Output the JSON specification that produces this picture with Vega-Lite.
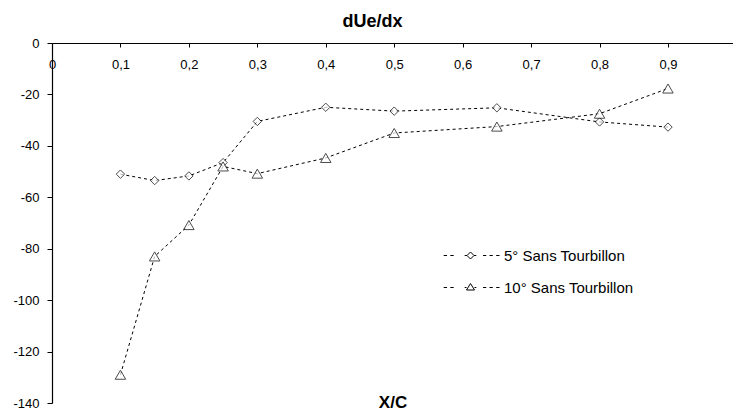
{
  "$schema": "https://vega.github.io/schema/vega-lite/v6.json",
  "width": 681,
  "height": 360,
  "autosize": "none",
  "padding": {"left": 52, "top": 43, "right": 0, "bottom": 7},
  "background": "white",
  "title": {
    "text": "dUe/dx",
    "font": "Liberation Sans",
    "fontSize": 18,
    "fontWeight": "bold",
    "color": "black",
    "anchor": "middle",
    "baseline": "alphabetic",
    "offset": 16,
    "dx": -20,
    "dy": 24
  },
  "config": {
    "view": {"stroke": null},
    "font": "Liberation Sans"
  },
  "data": {
    "values": [
      {"x": 0.1, "y": -51.0, "series": "5° Sans Tourbillon"},
      {"x": 0.15, "y": -53.5, "series": "5° Sans Tourbillon"},
      {"x": 0.2, "y": -51.7, "series": "5° Sans Tourbillon"},
      {"x": 0.25, "y": -46.5, "series": "5° Sans Tourbillon"},
      {"x": 0.3, "y": -30.5, "series": "5° Sans Tourbillon"},
      {"x": 0.4, "y": -25.0, "series": "5° Sans Tourbillon"},
      {"x": 0.5, "y": -26.5, "series": "5° Sans Tourbillon"},
      {"x": 0.65, "y": -25.2, "series": "5° Sans Tourbillon"},
      {"x": 0.8, "y": -30.7, "series": "5° Sans Tourbillon"},
      {"x": 0.9, "y": -32.7, "series": "5° Sans Tourbillon"},
      {"x": 0.1, "y": -129.0, "series": "10° Sans Tourbillon"},
      {"x": 0.15, "y": -83.0, "series": "10° Sans Tourbillon"},
      {"x": 0.2, "y": -70.8, "series": "10° Sans Tourbillon"},
      {"x": 0.25, "y": -48.0, "series": "10° Sans Tourbillon"},
      {"x": 0.3, "y": -50.8, "series": "10° Sans Tourbillon"},
      {"x": 0.4, "y": -44.7, "series": "10° Sans Tourbillon"},
      {"x": 0.5, "y": -35.0, "series": "10° Sans Tourbillon"},
      {"x": 0.65, "y": -32.5, "series": "10° Sans Tourbillon"},
      {"x": 0.8, "y": -27.5, "series": "10° Sans Tourbillon"},
      {"x": 0.9, "y": -17.7, "series": "10° Sans Tourbillon"}
    ]
  },
  "encoding": {
    "x": {
      "field": "x",
      "type": "quantitative",
      "scale": {"domain": [0, 0.995], "nice": false, "zero": false},
      "axis": {
        "orient": "bottom",
        "offset": -360,
        "title": "X/C",
        "titleFont": "Liberation Sans",
        "titleFontSize": 17,
        "titleFontWeight": "bold",
        "titleColor": "black",
        "titleBaseline": "alphabetic",
        "titleY": 364,
        "titleAnchor": "middle",
        "values": [0, 0.1, 0.2, 0.3, 0.4, 0.5, 0.6, 0.7, 0.8, 0.9],
        "labelExpr": "datum.value == 0 ? '0' : replace(format(datum.value, '.1f'), '.', ',')",
        "labelFont": "Liberation Sans",
        "labelFontSize": 13,
        "labelColor": "black",
        "labelPadding": 11,
        "labelFlush": false,
        "labelOverlap": false,
        "tickSize": 4,
        "tickColor": "black",
        "domainColor": "black",
        "domainWidth": 1.2,
        "grid": false
      }
    },
    "y": {
      "field": "y",
      "type": "quantitative",
      "scale": {"domain": [-140, 0], "nice": false, "zero": false},
      "axis": {
        "title": null,
        "values": [-140, -120, -100, -80, -60, -40, -20, 0],
        "labelExpr": "'' + datum.value",
        "labelFont": "Liberation Sans",
        "labelFontSize": 13,
        "labelColor": "black",
        "labelPadding": 8,
        "tickSize": 5,
        "tickColor": "black",
        "domainColor": "black",
        "domainWidth": 1.2,
        "grid": false
      }
    }
  },
  "layer": [
    {
      "mark": {"type": "line", "stroke": "black", "strokeWidth": 1, "strokeDash": [3, 3]},
      "encoding": {
        "detail": {"field": "series", "type": "nominal"},
        "order": {"field": "x", "type": "quantitative"}
      }
    },
    {
      "mark": {"type": "point", "filled": true, "fill": "white", "stroke": "black", "strokeWidth": 1},
      "encoding": {
        "shape": {
          "field": "series",
          "type": "nominal",
          "scale": {"domain": ["5° Sans Tourbillon", "10° Sans Tourbillon"], "range": ["diamond", "triangle-up"]},
          "legend": null
        },
        "size": {
          "field": "series",
          "type": "nominal",
          "scale": {"domain": ["5° Sans Tourbillon", "10° Sans Tourbillon"], "range": [70, 110]},
          "legend": null
        }
      }
    },
    {
      "transform": [{"filter": "datum.x > 5"}],
      "mark": {"type": "point", "filled": false, "color": "black", "strokeWidth": 1, "opacity": 1},
      "encoding": {
        "shape": {
          "field": "series",
          "type": "nominal",
          "scale": {
            "domain": ["5° Sans Tourbillon", "10° Sans Tourbillon"],
            "range": [
              "M-5.36,0L-4.7,0M-4.04,0L-3.36,0M-1.16,0L-0.7,0M-0.7,0L0,-0.7L0.7,0L0,0.7ZM0.7,0L1.16,0M2.5,0L3.16,0M3.8,0L4.46,0M5.14,0L5.8,0",
              "M-5.36,0L-4.7,0M-4.04,0L-3.36,0M-1.16,0L-0.8,0M-0.8,0.5L0,-0.8L0.8,0.5ZM0.8,0L1.16,0M2.5,0L3.16,0M3.8,0L4.46,0M5.14,0L5.8,0"
            ]
          },
          "legend": {
            "title": null,
            "orient": "none",
            "legendX": 411,
            "legendY": 205,
            "padding": 0,
            "symbolSize": 100,
            "symbolStrokeColor": "black",
            "symbolStrokeWidth": 1,
            "labelOffset": 26,
            "labelFont": "Liberation Sans",
            "labelFontSize": 15,
            "labelColor": "black",
            "labelLimit": 300,
            "rowPadding": 16,
            "encode": {
              "symbols": {
                "update": {
                  "stroke": {"value": "black"},
                  "strokeWidth": {"value": 1},
                  "opacity": {"value": 1}
                }
              }
            }
          }
        }
      }
    }
  ],
  "resolve": {"scale": {"shape": "independent", "size": "independent"}}
}
